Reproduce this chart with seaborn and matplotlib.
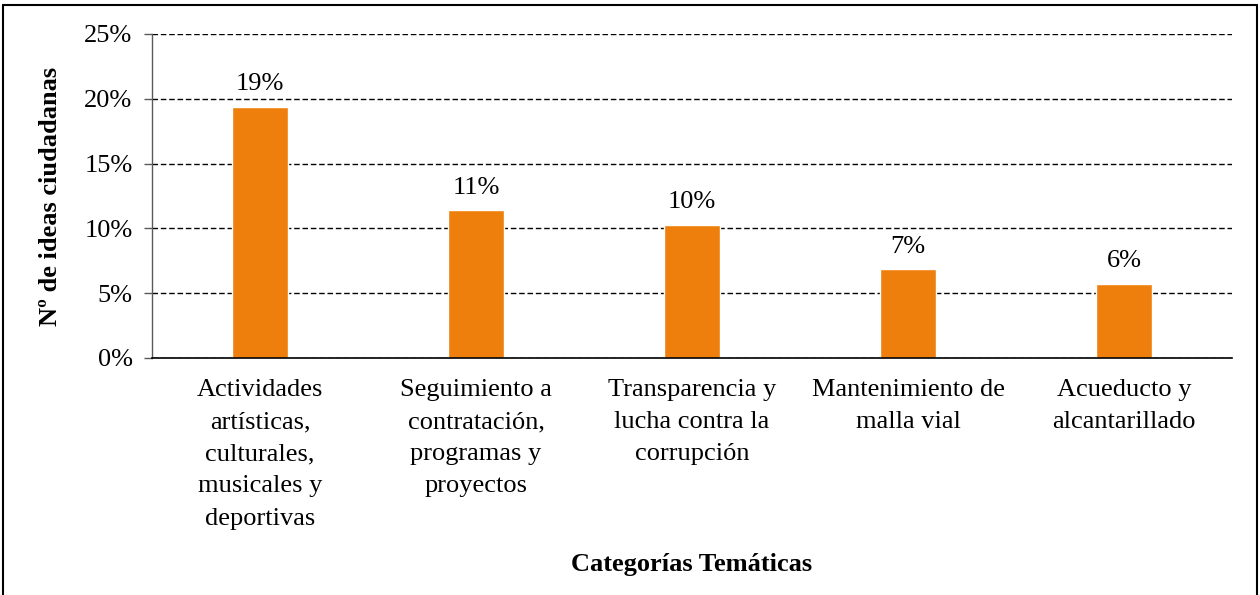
import matplotlib.pyplot as plt
import seaborn as sns
from matplotlib.lines import Line2D
from matplotlib.ticker import PercentFormatter

categorias = ["Actividades\nartísticas,\nculturales,\nmusicales y\ndeportivas",
              "Seguimiento a\ncontratación,\nprogramas y\nproyectos",
              "Transparencia y\nlucha contra la\ncorrupción",
              "Mantenimiento de\nmalla vial",
              "Acueducto y\nalcantarillado"]
porcentajes = [19.4, 11.4, 10.25, 6.85, 5.7]
etiquetas = ["19%", "11%", "10%", "7%", "6%"]

sns.set_style("white")
plt.rcParams['font.family'] = ['Liberation Serif', 'DejaVu Serif']
plt.rcParams['text.color'] = 'black'
plt.rcParams['axes.labelcolor'] = 'black'
plt.rcParams['xtick.color'] = 'black'
plt.rcParams['ytick.color'] = 'black'

fs = 19

fig = plt.figure(figsize=(12.6, 5.95), dpi=100)
ax = fig.add_axes([152 / 1260, 1 - 358 / 595, 1080 / 1260, 324 / 595])

sns.barplot(x=categorias, y=porcentajes, color="#EF7F0C", width=0.26, saturation=1, ax=ax)

for i, (v, t) in enumerate(zip(porcentajes, etiquetas)):
    ax.text(i, v + 0.9, t, ha="center", va="bottom", fontsize=fs)

ax.set_ylim(0, 25)
ax.set_xlim(-0.5, 4.5)
ax.set_yticks([0, 5, 10, 15, 20, 25])
ax.yaxis.set_major_formatter(PercentFormatter(decimals=0))
ax.yaxis.grid(True, linestyle=(0, (4, 2)), color="black", linewidth=1)
ax.set_axisbelow(True)

for s in ["top", "right"]:
    ax.spines[s].set_visible(False)
ax.spines["left"].set_color("#595959")
ax.spines["bottom"].set_color("black")
ax.spines["left"].set_linewidth(1)
ax.spines["bottom"].set_linewidth(1.2)

ax.tick_params(axis="y", labelsize=fs, length=6, width=1, color="#595959", labelcolor="black", left=True, pad=8)
ax.tick_params(axis="x", labelsize=fs, length=0, pad=15, labelcolor="black")
for lbl in ax.get_xticklabels():
    lbl.set_linespacing(1.6)
    lbl.set_va("top")

ax.set_ylabel("Nº de ideas ciudadanas", fontsize=fs, fontweight="bold", labelpad=16)
ax.set_xlabel("")
fig.text(692 / 1260, 1 - 565 / 595, "Categorías Temáticas", ha="center", va="center",
         fontsize=fs, fontweight="bold")

# marco de la figura
fig.add_artist(Line2D([3 / 1260, 3 / 1260], [0, 1 - 5 / 595], transform=fig.transFigure, color="black", linewidth=1.5))
fig.add_artist(Line2D([1257 / 1260, 1257 / 1260], [0, 1 - 5 / 595], transform=fig.transFigure, color="black", linewidth=1.5))
fig.add_artist(Line2D([3 / 1260, 1257 / 1260], [1 - 5 / 595, 1 - 5 / 595], transform=fig.transFigure, color="black", linewidth=1.5))

fig.savefig("out.png", dpi=100)
